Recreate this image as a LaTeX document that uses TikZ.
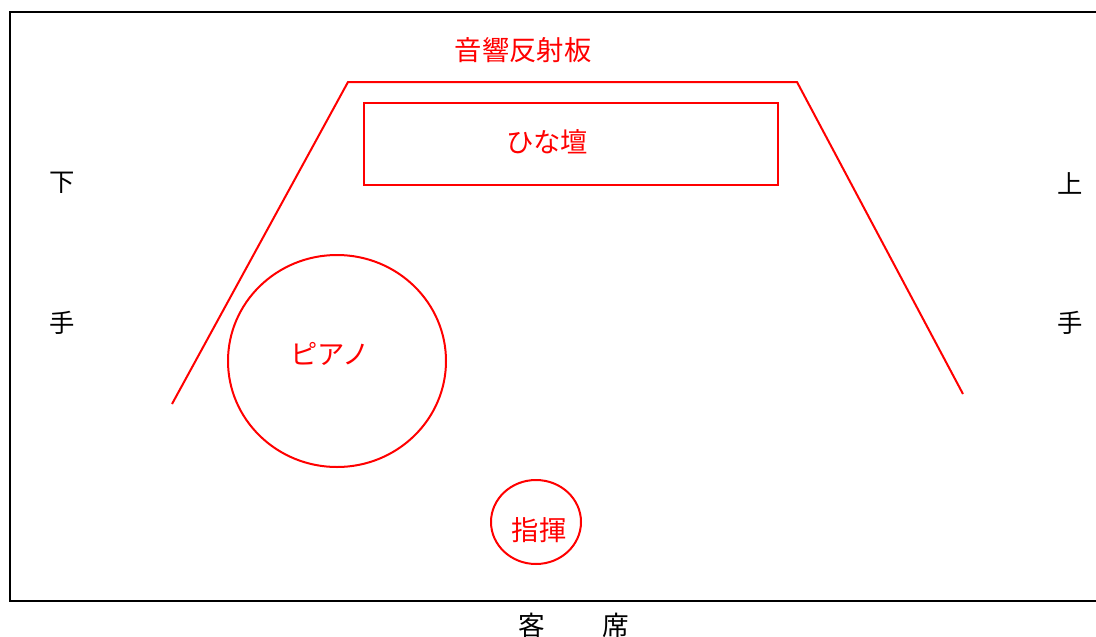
\documentclass[tikz,border=0pt]{standalone}
\usepackage{fontspec}
\usetikzlibrary{shapes.geometric}
\newfontfamily\jp{Noto Sans CJK JP}
\begin{document}
\begin{tikzpicture}[x=0.75pt,y=-0.75pt,
  redline/.style={draw=red,line width=1.5pt},
  redlbl/.style={text=red,font=\jp\fontsize{20.5}{24}\selectfont,inner sep=0pt},
  blklbl/.style={text=black,font=\jp\fontsize{19}{22}\selectfont,inner sep=0pt}]
\useasboundingbox (0,0) rectangle (1096,636);
% frame
\draw[line width=1.5pt] (1097,12) -- (10,12) -- (10,601) -- (1097,601);
% reflector
\coordinate (rl) at (172,404);
\coordinate (rtl) at (348,82);
\coordinate (rtr) at (797,82);
\coordinate (rr) at (963,394);
\draw[redline,line join=miter] (rl) -- (rtl) -- (rtr) -- (rr);
\node[redlbl] (refl) at (523,50) {音響反射板};
% risers
\node[redline,minimum width=414*0.75pt,minimum height=82*0.75pt,inner sep=0pt] (hina) at (571,144) {};
\node[redlbl] (hinalbl) at (547,142) {ひな壇};
% piano
\node[redline,ellipse,minimum width=218*0.75pt,minimum height=212*0.75pt,inner sep=0pt] (piano) at (337,361) {};
\node[redlbl] (pianolbl) at (330,354) {ピアノ};
% conductor
\node[redline,ellipse,minimum width=90*0.75pt,minimum height=84*0.75pt,inner sep=0pt] (cond) at (536,522) {};
\node[redlbl] (condlbl) at (539,530) {指揮};
% side labels
\node[blklbl] (s1) at (62,183) {下};
\node[blklbl] (s2) at (62,323) {手};
\node[blklbl] (s3) at (1070,183) {上};
\node[blklbl] (s4) at (1070,323) {手};
\node[blklbl,font=\jp\fontsize{20}{23}\selectfont] (seat) at (574,625) {客\hspace{43pt}席};
\end{tikzpicture}
\end{document}
